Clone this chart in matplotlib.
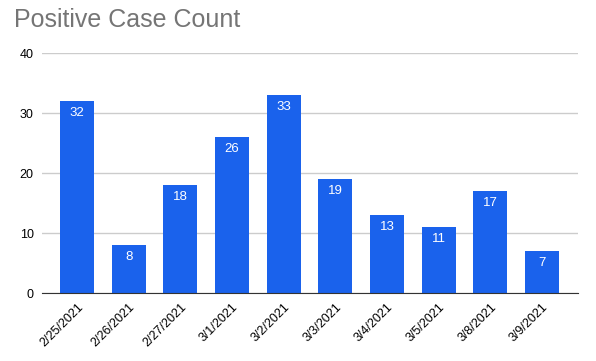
import matplotlib.pyplot as plt

dates = ['2/25/2021', '2/26/2021', '2/27/2021', '3/1/2021', '3/2/2021',
         '3/3/2021', '3/4/2021', '3/5/2021', '3/8/2021', '3/9/2021']
counts = [32, 8, 18, 26, 33, 19, 13, 11, 17, 7]
yticks = [0, 10, 20, 30, 40]

plt.rcParams['font.family'] = ['Liberation Sans', 'DejaVu Sans']

fig = plt.figure(figsize=(5.96, 3.61), dpi=100)
ax = fig.add_axes([42 / 596, 1 - 293 / 361, 536 / 596, 240 / 361])

x = range(len(dates))
bars = ax.bar(x, counts, width=0.66, color='#1a62ec', zorder=2)
for b, v in zip(bars, counts):
    ax.text(b.get_x() + b.get_width() / 2, v - 1.0, str(v), color='white',
            ha='center', va='top', fontsize=9.5)

ax.set_xlim(-0.68, 9.7)
ax.set_ylim(0, 40)
ax.set_yticks(yticks)
ax.set_xticks(list(x))
ax.set_xticklabels(dates, rotation=45, ha='right', rotation_mode='anchor', fontsize=9)
ax.tick_params(axis='y', labelsize=9, length=0, pad=6)
ax.tick_params(axis='x', length=0, pad=6)
ax.grid(axis='y', color='#cccccc', linewidth=1, zorder=0)
for s in ['top', 'right', 'left']:
    ax.spines[s].set_visible(False)
ax.spines['bottom'].set_color('#333333')
ax.spines['bottom'].set_zorder(3)

fig.text(14 / 596, 1 - 20 / 361, 'Positive Case Count', fontsize=18,
         color='#757575', va='center', ha='left')

fig.savefig('out.png', dpi=100)
